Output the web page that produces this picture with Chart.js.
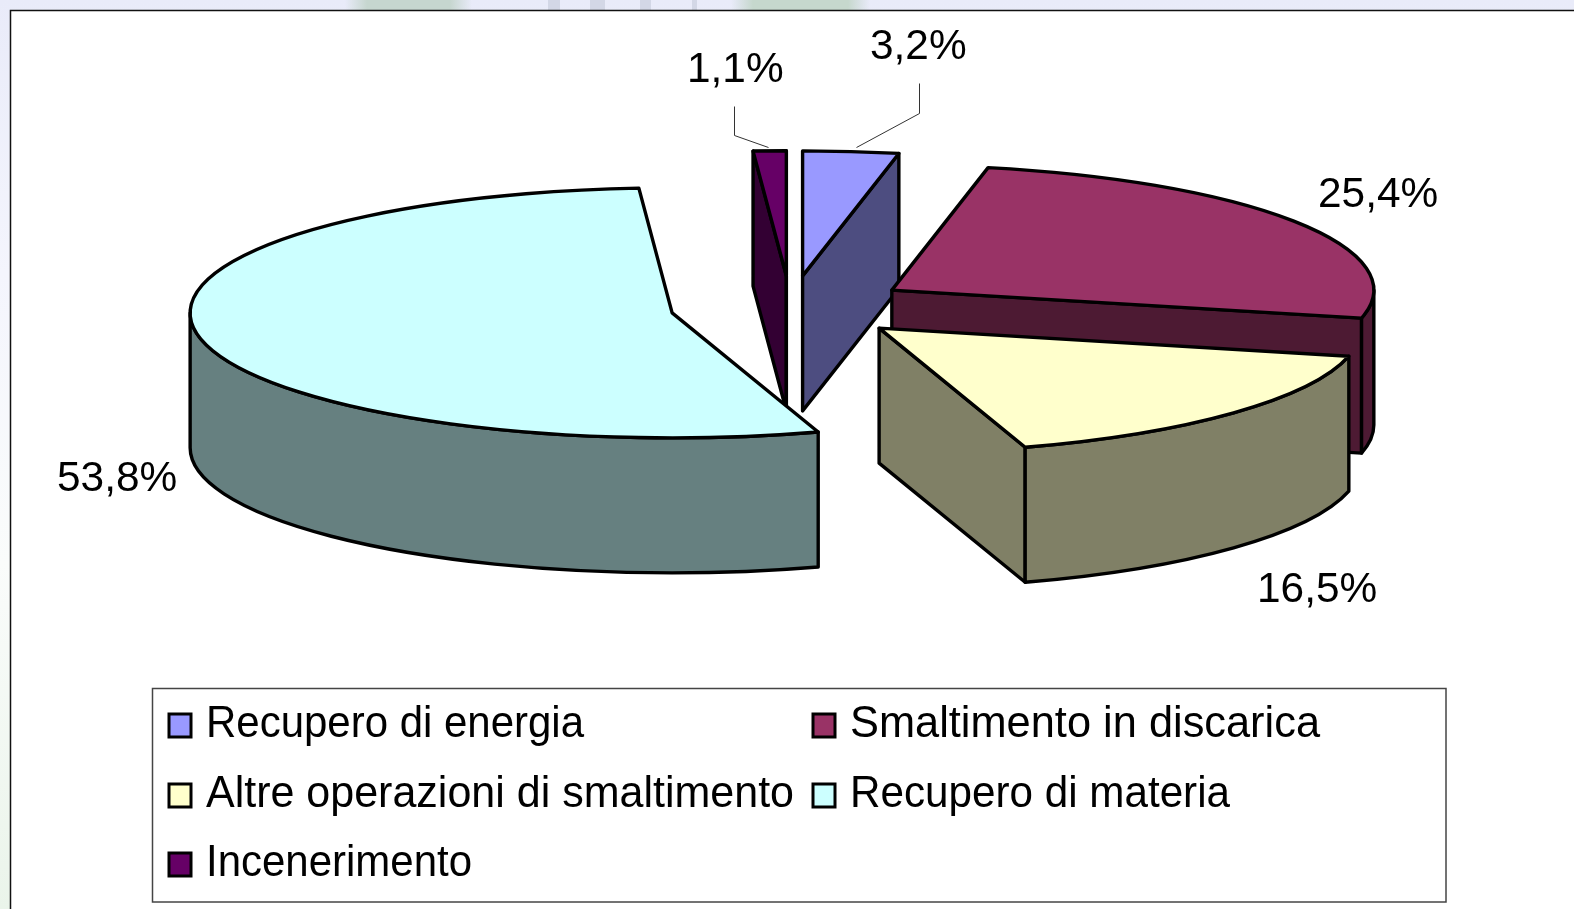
<!DOCTYPE html>
<html>
<head>
<meta charset="utf-8">
<style>
html,body{margin:0;padding:0;width:1574px;height:909px;overflow:hidden;background:#fff}
#wrap{position:absolute;left:0;top:0;width:1574px;height:909px}
</style>
<script src="https://cdn.jsdelivr.net/npm/chart.js@4"></script>
</head>
<body>
<div id="wrap"><canvas id="c" width="1574" height="909"></canvas></div>
<script>
const categories = ['Recupero di energia','Smaltimento in discarica','Altre operazioni di smaltimento','Recupero di materia','Incenerimento'];
const shares = [3.2,25.4,16.5,53.8,1.1];
const topColors = ['#9999ff','#993366','#ffffcc','#ccffff','#660066'];
const sideColors = ['#4d4d80','#4d1a33','#808066','#668080','#330033'];

const FONT = '"Liberation Sans", Arial, sans-serif';
const RX = 482, RY = 125, DEPTH = 135, EXPLODE = 0.25;
const STROKE = 3.4;
const labelSpots = [[870,59],[1318,207],[1257,602],[57,491],[687,82]];
const leaders = [[[919,83],[919,113],[856,147]], null, null, null, [[734,106],[734,135],[768,147]]];
const legendBox = {x:152.5,y:688.5,w:1293.5,h:213.5};
const legendCells = [[168,713],[812,713],[168,783],[812,783],[168,852]];
const legendTextWidths = [378,470,588,380,266];
const drawOrder = [4,0,1,2,3];
const stripPatches = [[357,460,'#c6d6cf'],[743,858,'#c6d8cd']];
const stripTicks = [[548,560],[590,605],[640,651],[692,697]];

const pie3d = {
  id:'pie3d',
  beforeDraw(chart){
    const ctx = chart.ctx;
    ctx.save();
    let g = ctx.createLinearGradient(0,0,0,909);
    g.addColorStop(0,'#e9ebf9');
    g.addColorStop(0.3,'#f4f5fd');
    g.addColorStop(0.62,'#fafcfb');
    g.addColorStop(1,'#eaf4ea');
    ctx.fillStyle = g;
    ctx.fillRect(0,0,1574,909);
    stripPatches.forEach(([a,b,col])=>{
      g = ctx.createLinearGradient(a-12,0,b+12,0);
      const e = 22/(b-a+24);
      g.addColorStop(0,'rgba(198,214,207,0)');
      g.addColorStop(e,col);
      g.addColorStop(1-e,col);
      g.addColorStop(1,'rgba(198,214,207,0)');
      ctx.fillStyle = g;
      ctx.fillRect(a-12,0,b-a+24,10);
    });
    ctx.fillStyle = '#d3d7e6';
    stripTicks.forEach(([a,b])=>ctx.fillRect(a,0,b-a,10));
    ctx.fillStyle = '#fff';
    ctx.fillRect(10.5,10.5,1564,899);
    ctx.strokeStyle = '#111';
    ctx.lineWidth = 1.5;
    ctx.beginPath();
    ctx.moveTo(10.5,909); ctx.lineTo(10.5,10.5); ctx.lineTo(1574,10.5);
    ctx.stroke();
    ctx.restore();
  },
  beforeDatasetDraw(chart,args){
    const ctx = chart.ctx, arcs = args.meta.data;
    ctx.save();
    ctx.lineWidth = STROKE;
    ctx.lineJoin = 'round';
    ctx.strokeStyle = '#000';
    for(const i of drawOrder){
      const el = arcs[i];
      const a0 = el.startAngle, a1 = el.endAngle, mid = (a0+a1)/2;
      const ax = el.x + Math.cos(mid)*EXPLODE*RX;
      const ay = el.y + Math.sin(mid)*EXPLODE*RY;
      const pt = (a,d)=>[ax+Math.cos(a)*RX, ay+Math.sin(a)*RY+d];
      const paint = (fill)=>{ctx.fillStyle=fill;ctx.fill();ctx.stroke();};
      const radial = (a)=>{
        const p = pt(a,0);
        ctx.beginPath();
        ctx.moveTo(ax,ay);ctx.lineTo(p[0],p[1]);ctx.lineTo(p[0],p[1]+DEPTH);ctx.lineTo(ax,ay+DEPTH);ctx.closePath();
        paint(sideColors[i]);
      };
      if(-Math.cos(a0)>0) radial(a0);
      if(Math.cos(a1)>0) radial(a1);
      const v0 = Math.max(a0,0), v1 = Math.min(a1,Math.PI);
      if(v1>v0){
        ctx.beginPath();
        ctx.ellipse(ax,ay,RX,RY,0,v0,v1,false);
        ctx.ellipse(ax,ay+DEPTH,RX,RY,0,v1,v0,true);
        ctx.closePath();
        paint(sideColors[i]);
      }
      ctx.beginPath();
      ctx.moveTo(ax,ay);
      ctx.ellipse(ax,ay,RX,RY,0,a0,a1,false);
      ctx.closePath();
      paint(el.options.backgroundColor);
    }
    ctx.restore();
    return false;
  },
  afterDatasetsDraw(chart){
    const ctx = chart.ctx;
    ctx.save();
    ctx.strokeStyle = '#333';
    ctx.lineWidth = 1;
    leaders.forEach(l=>{
      if(!l) return;
      ctx.beginPath();
      l.forEach((p,k)=>k?ctx.lineTo(p[0]+.5,p[1]+.5):ctx.moveTo(p[0]+.5,p[1]+.5));
      ctx.stroke();
    });
    ctx.fillStyle = '#000';
    ctx.textBaseline = 'alphabetic';
    ctx.textAlign = 'left';
    ctx.font = '42.4px '+FONT;
    shares.forEach((v,i)=>{
      ctx.fillText(v.toFixed(1).replace('.',',')+'%',labelSpots[i][0],labelSpots[i][1]);
    });
    ctx.strokeStyle = '#444';
    ctx.lineWidth = 1.5;
    ctx.strokeRect(legendBox.x,legendBox.y,legendBox.w,legendBox.h);
    ctx.font = '44px '+FONT;
    categories.forEach((name,i)=>{
      const [x,y] = legendCells[i];
      ctx.fillStyle = topColors[i];
      ctx.strokeStyle = '#000';
      ctx.lineWidth = 3;
      ctx.fillRect(x+1,y+1,22,23);
      ctx.strokeRect(x+1,y+1,22,23);
      ctx.fillStyle = '#000';
      ctx.fillText(name,x+38,y+24,legendTextWidths[i]);
    });
    ctx.restore();
  }
};

new Chart(document.getElementById('c'),{
  type:'pie',
  data:{labels:categories,datasets:[{data:shares,backgroundColor:topColors,borderColor:'#000',borderWidth:0}]},
  options:{
    responsive:false,
    animation:false,
    rotation:0,
    layout:{padding:{left:7,right:0,top:0,bottom:295}},
    plugins:{legend:{display:false},tooltip:{enabled:false}}
  },
  plugins:[pie3d]
});
</script>
</body>
</html>
